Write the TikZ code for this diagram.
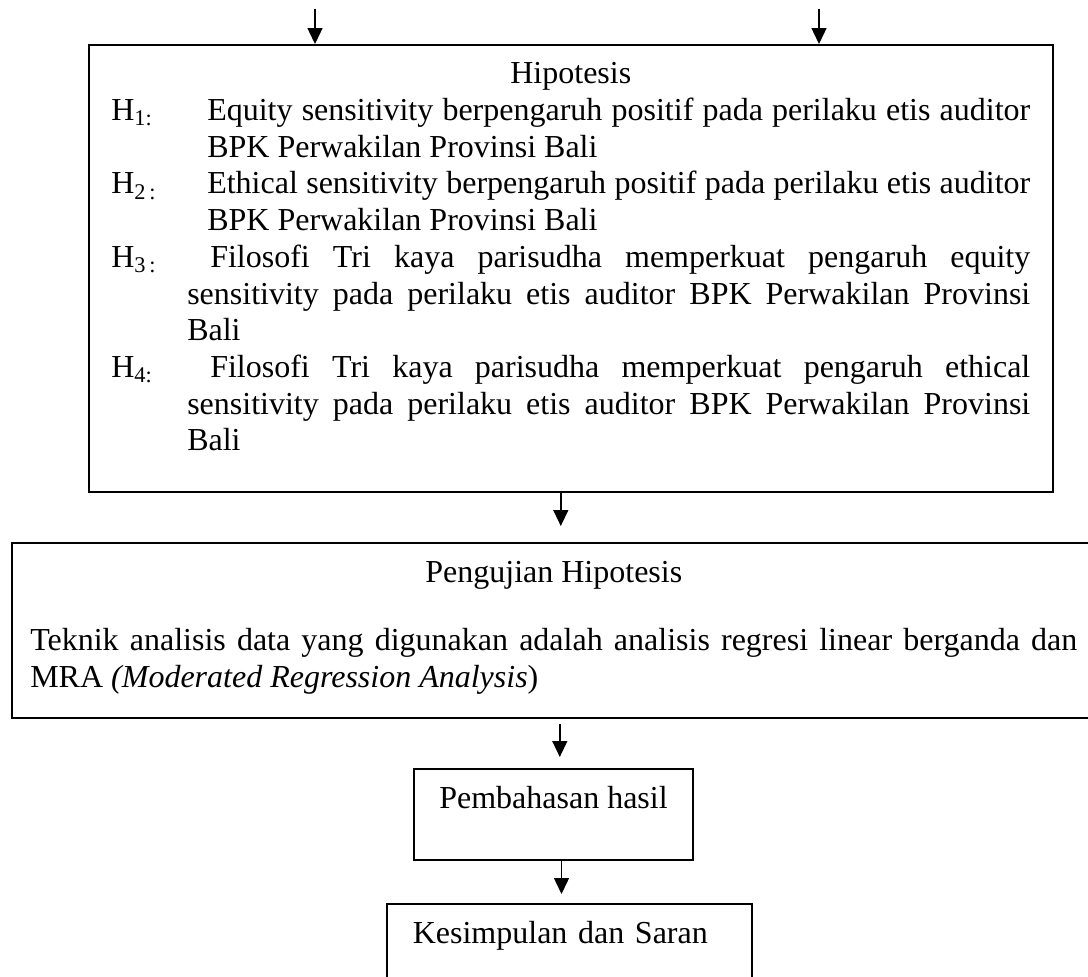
\documentclass[tikz,border=0pt]{standalone}
\usepackage{fontspec}
\setmainfont{Liberation Serif}
\usetikzlibrary{arrows.meta}
\hbadness=10000
\begin{document}
\begin{tikzpicture}[x=0.5pt,y=-0.5pt,
    box/.style={draw,line width=0.8pt,inner sep=0pt,font=\fontsize{16pt}{18.35pt}\selectfont},
    flow/.style={line width=0.7pt,-{Triangle[width=7.5pt,length=8pt]}}]
\useasboundingbox (0,0) rectangle (1088,976);

\coordinate (in1) at (315,9);
\coordinate (in2) at (819,9);

\node[box,anchor=north west,text width=459.5pt,inner xsep=11.25pt,align=justify] (hipo) at (88,44) {%
  \noindent\makebox[\linewidth]{\rule{0pt}{19.5pt}Hipotesis}\par
  \noindent\hangindent=48pt\hangafter=1\makebox[48pt][l]{H\textsubscript{1:}}Equity sensitivity berpengaruh positif pada perilaku etis auditor\linebreak BPK Perwakilan Provinsi Bali\par
  \noindent\hangindent=48pt\hangafter=1\makebox[48pt][l]{H\textsubscript{2\,:}}Ethical sensitivity berpengaruh positif pada perilaku etis auditor\linebreak BPK Perwakilan Provinsi Bali\par
  \noindent\hangindent=38pt\hangafter=1\makebox[49.5pt][l]{H\textsubscript{3\,:}}Filosofi Tri kaya parisudha memperkuat pengaruh equity\linebreak sensitivity pada perilaku etis auditor BPK Perwakilan Provinsi\linebreak Bali\par
  \noindent\hangindent=38pt\hangafter=1\makebox[49.5pt][l]{H\textsubscript{4:}}Filosofi Tri kaya parisudha memperkuat pengaruh ethical\linebreak sensitivity pada perilaku etis auditor BPK Perwakilan Provinsi\linebreak Bali\rule[-20.5pt]{0pt}{0pt}\par};

\node[box,anchor=north west,text width=523.5pt,inner xsep=9.25pt,align=justify] (peng) at (11,542) {%
  \noindent\makebox[\linewidth]{\rule{0pt}{20pt}Pengujian Hipotesis}\par\vspace{15.5pt}
  \noindent Teknik analisis data yang digunakan adalah analisis regresi linear berganda dan\linebreak MRA \textit{(Moderated Regression Analysis})\rule[-15.5pt]{0pt}{0pt}\par};

\node[box,anchor=north,minimum width=139.5pt,text height=20pt,text depth=25.5pt] (pemb) at (553.5,768) {Pembahasan hasil};

\node[box,anchor=north west,text width=156.5pt,inner xsep=13pt,align=left,text height=20pt,text depth=23.5pt] (kes) at (386,903) {Kesimpulan dan Saran};

\draw[flow] (in1) -- (in1 |- hipo.north);
\draw[flow] (in2) -- (in2 |- hipo.north);
\draw[flow,shorten >=8pt] ([xshift=-5pt]hipo.south) -- ([xshift=-5pt]hipo.south |- peng.north);
\draw[flow,shorten <=2.5pt,shorten >=5.5pt] ([xshift=3pt]peng.south) -- ([xshift=3pt]peng.south |- pemb.north);
\draw[flow,shorten >=4.5pt] ([xshift=4pt]pemb.south) -- ([xshift=4pt]pemb.south |- kes.north);
\end{tikzpicture}
\end{document}
